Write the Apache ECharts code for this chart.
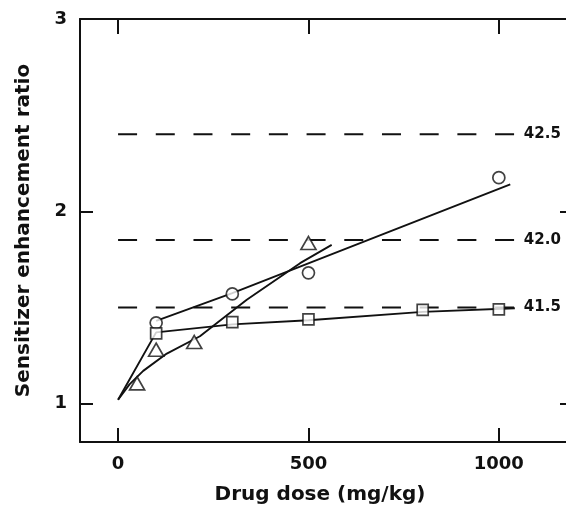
<!DOCTYPE html>
<html><head><meta charset="utf-8">
<script src="https://cdn.jsdelivr.net/npm/echarts@6/dist/echarts.min.js"></script>
<style>html,body{margin:0;padding:0;background:#fff;overflow:hidden}#c{width:566px;height:508px}</style>
</head><body><div id="c"></div>
<script>
// ---- data ----
const xTicks = [0, 500, 1000];
const yTicks = [1, 2, 3];
const circleData = [[100, 1.42], [300, 1.57], [500, 1.68], [1000, 2.175]];
const triangleData = [[50, 1.105], [100, 1.28], [200, 1.32], [500, 1.835]];
const squareData = [[100, 1.365], [300, 1.423], [500, 1.438], [800, 1.487], [1000, 1.49]];
const circleFit = [[100, 1.43], [300, 1.574], [1030, 2.14]];
const triangleFit = [[0, 1.02], [30, 1.10], [66, 1.17], [128, 1.26], [215, 1.35], [338, 1.54], [478, 1.73], [561, 1.825]];
const squareFit = [[0, 1.02], [100, 1.37], [300, 1.412], [500, 1.433], [800, 1.477], [1042, 1.496]];
const refLabels = ['42.5', '42.0', '41.5'];
const refValues = [2.4, 1.85, 1.5];
const refRange = [0, 1042];

// ---- chart ----
const F = '"DejaVu Sans", Verdana, sans-serif';
const INK = '#111';
const chart = echarts.init(document.getElementById('c'));

function axisBase(extra) {
  return Object.assign({
    type: 'value',
    splitLine: { show: false },
    axisLine: { show: true, onZero: false, lineStyle: { color: INK, width: 2 } }
  }, extra);
}
const tickStyle = { color: INK, width: 2 };
const plain = v => String(v);

const series = [];
refValues.forEach((v, i) => {
  series.push({
    type: 'line', symbol: 'none', silent: true, z: 1,
    data: [[refRange[0], v], [refRange[1], v]],
    lineStyle: { color: INK, width: 2, type: [19, 18.7] },
    endLabel: { show: true, formatter: refLabels[i], distance: 9,
      fontFamily: F, fontWeight: 'bold', fontSize: 15, color: INK }
  });
});
[circleFit, triangleFit, squareFit].forEach(d => {
  series.push({ type: 'line', symbol: 'none', silent: true, z: 2, data: d,
    lineStyle: { color: INK, width: 1.9 } });
});
const mk = { color: '#fff', borderColor: INK, borderWidth: 1.7 };
series.push({ type: 'scatter', z: 3, symbol: 'circle', symbolSize: 12, data: circleData, itemStyle: mk });
series.push({ type: 'scatter', z: 3, symbol: 'triangle', symbolSize: [15, 13], data: triangleData, itemStyle: mk });
series.push({ type: 'scatter', z: 3, symbol: 'rect', symbolSize: 11, data: squareData, itemStyle: mk });

chart.setOption({
  animation: false,
  grid: { left: 80, top: 19, width: 495, height: 423, outerBoundsMode: 'none', containLabel: false },
  xAxis: [
    axisBase({ position: 'bottom', min: -100, max: 1200,
      axisTick: { show: true, inside: true, length: 14, customValues: xTicks, lineStyle: tickStyle },
      axisLabel: { customValues: xTicks, formatter: plain, margin: 13, fontFamily: F, fontWeight: 'bold', fontSize: 18, color: INK },
      name: 'Drug dose (mg/kg)', nameLocation: 'middle', nameGap: 43,
      nameTextStyle: { fontFamily: F, fontWeight: 'bold', fontSize: 20, color: INK, padding: [0, 15, 0, 0] } }),
    axisBase({ position: 'top', min: -100, max: 1200,
      axisTick: { show: true, inside: true, length: 15, customValues: xTicks, lineStyle: tickStyle },
      axisLabel: { show: false } })
  ],
  yAxis: [
    axisBase({ position: 'left', min: 0.8, max: 3,
      axisTick: { show: true, inside: true, length: 13, customValues: yTicks, lineStyle: tickStyle },
      axisLabel: { customValues: yTicks, formatter: plain, margin: 13, fontFamily: F, fontWeight: 'bold', fontSize: 18, color: INK },
      name: 'Sensitizer enhancement ratio', nameLocation: 'middle', nameGap: 46,
      nameTextStyle: { fontFamily: F, fontWeight: 'bold', fontSize: 20, color: INK } }),
    axisBase({ position: 'right', min: 0.8, max: 3,
      axisTick: { show: true, inside: true, length: 15, customValues: yTicks, lineStyle: tickStyle },
      axisLabel: { show: false } })
  ],
  series: series
});
</script>
</body></html>
